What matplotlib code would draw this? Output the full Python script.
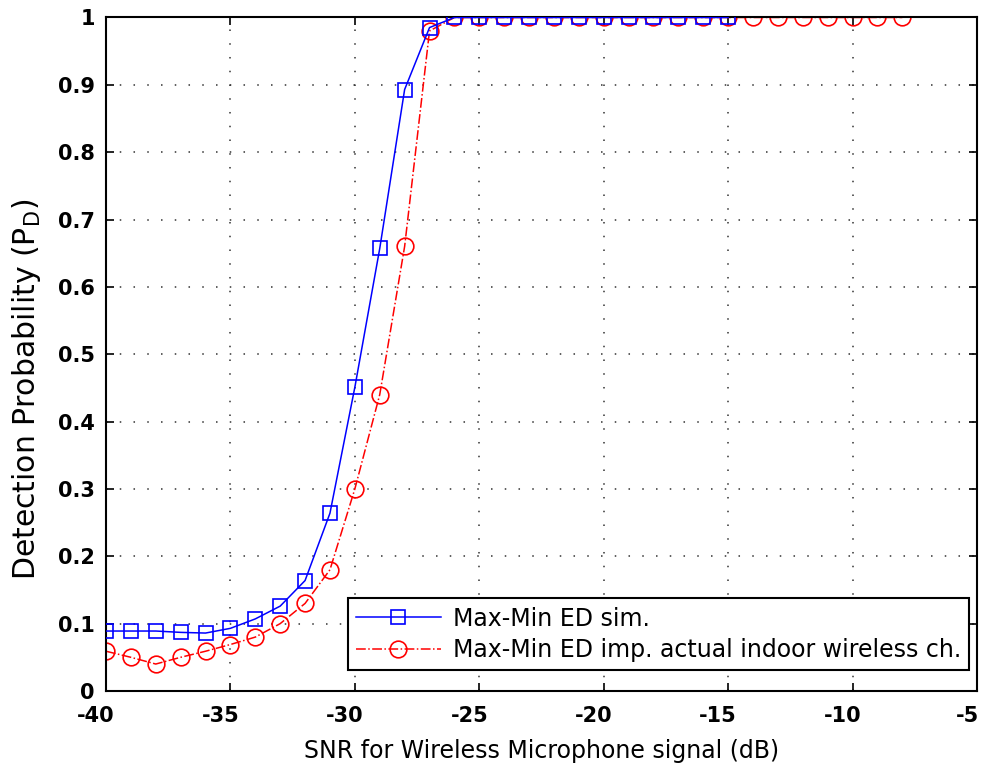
import matplotlib
matplotlib.use("Agg")
import matplotlib.pyplot as plt
from matplotlib.transforms import ScaledTranslation

# SNR grid (dB) for each curve
snr_sim = list(range(-40, -14))          # -40 ... -15
snr_imp = list(range(-40, -7))           # -40 ... -8

# Detection probability, simulated Max-Min ED
pd_sim = [0.089, 0.089, 0.089, 0.087, 0.086, 0.093, 0.107, 0.126, 0.164,
          0.264, 0.451, 0.657, 0.893, 0.985,
          1.0, 1.0, 1.0, 1.0, 1.0, 1.0, 1.0, 1.0, 1.0, 1.0, 1.0, 1.0]

# Detection probability, implementation over an indoor wireless channel
pd_imp = [0.059, 0.050, 0.040, 0.050, 0.059, 0.069, 0.080, 0.100, 0.130,
          0.180, 0.300, 0.440, 0.660, 0.980,
          1.0, 1.0, 1.0, 1.0, 1.0, 1.0, 1.0, 1.0, 1.0, 1.0, 1.0, 1.0,
          1.0, 1.0, 1.0, 1.0, 1.0, 1.0, 1.0]

x_ticks = [-40, -35, -30, -25, -20, -15, -10, -5]
y_ticks = [0, 0.1, 0.2, 0.3, 0.4, 0.5, 0.6, 0.7, 0.8, 0.9, 1.0]
y_tick_labels = ["0", "0.1", "0.2", "0.3", "0.4", "0.5", "0.6", "0.7", "0.8", "0.9", "1"]

plt.rcParams["font.family"] = ["DejaVu Sans"]
plt.rcParams["mathtext.fontset"] = "dejavusans"

fig = plt.figure(figsize=(9.85, 7.63), dpi=100)
ax = fig.add_axes([0.1076, 0.0944, 0.8843, 0.8827])

ax.plot(snr_sim, pd_sim, color="#0000ff", linestyle="-", linewidth=1.1,
        marker="s", markersize=10, markerfacecolor="none",
        markeredgecolor="#0000ff", markeredgewidth=1.2,
        label="Max-Min ED sim.", zorder=3)
ax.plot(snr_imp, pd_imp, color="#ff0000", linestyle="-.", linewidth=1.1,
        marker="o", markersize=12, markerfacecolor="none",
        markeredgecolor="#ff0000", markeredgewidth=1.2,
        label="Max-Min ED imp. actual indoor wireless ch.", zorder=2)

ax.set_xlim(-40, -5)
ax.set_ylim(0, 1)
ax.set_xticks(x_ticks)
ax.set_xticklabels([str(t) for t in x_ticks])
ax.set_yticks(y_ticks)
ax.set_yticklabels(y_tick_labels)

ax.tick_params(axis="y", direction="in", left=True, right=True, length=6, width=1.2, pad=8)
ax.tick_params(axis="x", direction="in", top=True, bottom=True, length=6, width=1.2, pad=11)
for s in ax.spines.values():
    s.set_linewidth(1.5)

for lbl in ax.get_xticklabels() + ax.get_yticklabels():
    lbl.set_fontweight("bold")
    lbl.set_fontsize(15)

# x tick labels sit slightly left of their ticks
shift = ScaledTranslation(-10 / 100, 0, fig.dpi_scale_trans)
for tick in ax.xaxis.get_major_ticks():
    tick.label1.set_transform(tick.label1.get_transform() + shift)

ax.grid(True, color="#333333", linestyle=(0, (1, 8)), linewidth=1.1)
ax.set_axisbelow(True)

ax.set_xlabel("SNR for Wireless Microphone signal (dB)", fontsize=17, labelpad=9)
ax.set_ylabel("Detection Probability (P$_\\mathregular{D}$)", fontsize=21.5)
ax.yaxis.set_label_coords(-0.072, 0.448)

leg = ax.legend(loc="lower right", bbox_to_anchor=(0.991, 0.031),
                borderaxespad=0, fontsize=17, fancybox=False, framealpha=1,
                edgecolor="black", handlelength=3.6, handletextpad=0.5,
                borderpad=0.35, labelspacing=0.3)
leg.get_frame().set_linewidth(1.5)

fig.savefig("out.png", dpi=100)
